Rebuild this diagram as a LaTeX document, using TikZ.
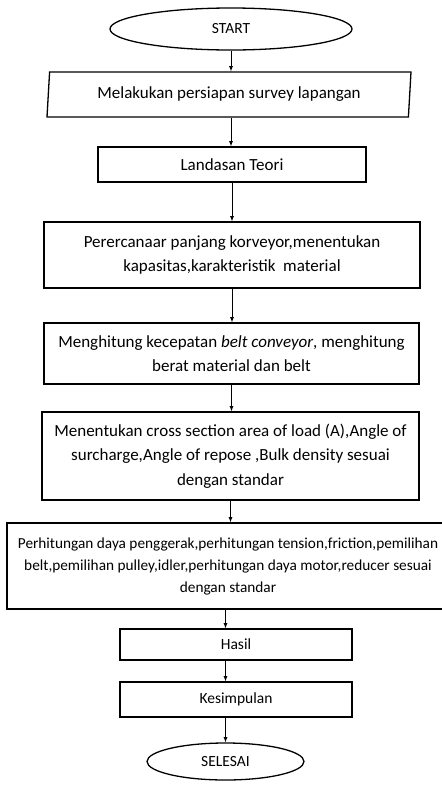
\documentclass[tikz,border=0pt]{standalone}
\usepackage{fontspec}
\setmainfont{Carlito}
\usetikzlibrary{shapes.geometric}

\begin{document}
\begin{tikzpicture}[>=latex, x=1pt, y=-1pt,
    box/.style={draw=black, line width=1.3pt, inner sep=0pt, align=center,
      font=\fontsize{17}{24.5}\selectfont},
    terminal/.style={box, ellipse, font=\fontsize{15.5}{20}\selectfont},
    io/.style={box, trapezium, trapezium left angle=80, trapezium right angle=100,
      trapezium stretches body},
    flow/.style={->, draw=black, line width=0.8pt}]
  \useasboundingbox (0,0) rectangle (442,788);

  \node[terminal, minimum width=242pt, minimum height=42pt] (start) at (231,29) {START};
  \node[io, minimum width=364pt, minimum height=45pt] (survey) at (229,94.5) {Melakukan persiapan survey lapangan};
  \node[box, minimum width=268pt, minimum height=35pt] (theory) at (232,164.5) {Landasan Teori};
  \node[box, minimum width=376pt, minimum height=66pt] (plan) at (232,255)
    {Perercanaar panjang korveyor,menentukan\\kapasitas,karakteristik\ \ material};
  \node[box, minimum width=375pt, minimum height=61pt] (speed) at (231.5,353.5)
    {Menghitung kecepatan \textit{belt conveyor}, menghitung\\berat material dan belt};
  \node[box, minimum width=377pt, minimum height=88pt] (area) at (230.5,456)
    {Menentukan cross section area of load (A),Angle of\\surcharge,Angle of repose ,Bulk density sesuai\\dengan standar};
  \node[box, minimum width=442pt, minimum height=86pt, font=\fontsize{15.3}{22}\selectfont] (power) at (228,566)
    {Perhitungan daya penggerak,perhitungan tension,friction,pemilihan\\belt,pemilihan pulley,idler,perhitungan daya motor,reducer sesuai\\dengan standar};
  \node[box, minimum width=232pt, minimum height=31pt, font=\fontsize{15.5}{18}\selectfont] (result) at (236,644.5) {Hasil};
  \node[box, minimum width=232pt, minimum height=35pt, font=\fontsize{15.5}{18}\selectfont] (conclusion) at (236,699.5) {Kesimpulan};
  \node[terminal, minimum width=157pt, minimum height=37pt] (finish) at (225.5,761.5) {SELESAI};

  % alur
  \draw[flow] (start.south) -- (start.south |- survey.north);
  \draw[flow] (start.south |- survey.south) -- (start.south |- theory.north);
  \draw[flow] (theory.south) -- (theory.south |- plan.north);
  \draw[flow] (plan.south) -- (plan.south |- speed.north);
  \draw[flow] (speed.south) -- (speed.south |- area.north);
  \draw[flow] (area.south) -- (area.south |- power.north);
  \draw[flow] (finish.north |- power.south) -- (finish.north |- result.north);
  \draw[flow] (finish.north |- result.south) -- (finish.north |- conclusion.north);
  \draw[flow] (finish.north |- conclusion.south) -- (finish.north);
\end{tikzpicture}
\end{document}
